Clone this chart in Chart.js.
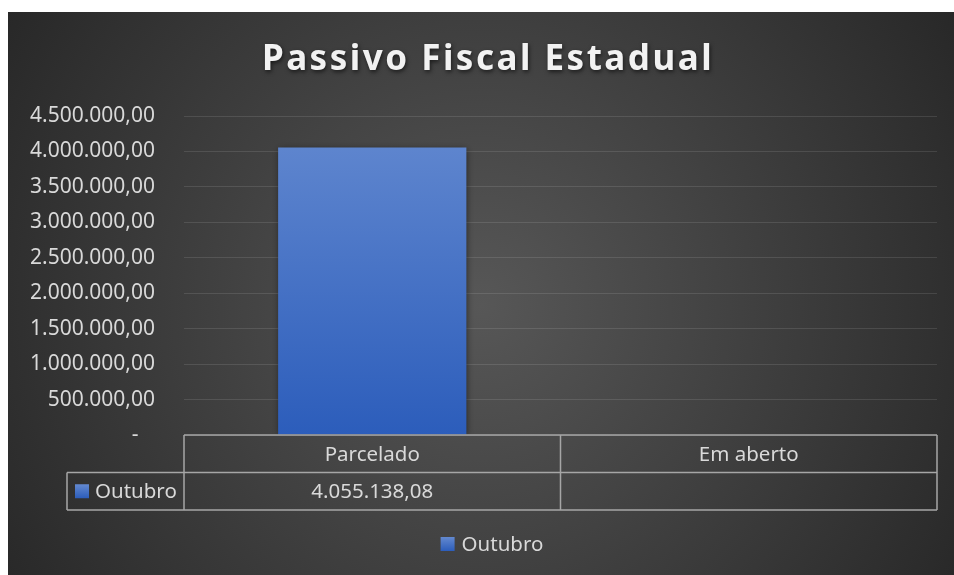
<!DOCTYPE html>
<html>
<head>
<meta charset="utf-8">
<script src="https://cdn.jsdelivr.net/npm/chart.js@4/dist/chart.umd.min.js"></script>
<style>
  html, body { margin: 0; padding: 0; background: #fff; }
  #wrap { position: absolute; left: 8px; top: 12px; width: 946px; height: 563px; }
</style>
</head>
<body>
<div id="wrap"><canvas id="chart"></canvas></div>
<script>
const chartTitle = 'Passivo Fiscal Estadual';
const categories = ['Parcelado', 'Em aberto'];
const seriesName = 'Outubro';
const outubroValues = [4055138.08, null];
const yMax = 4500000;
const yStep = 500000;

const FONT = "'Noto Sans', 'Open Sans', sans-serif";
const textColor = '#d9d9d9';
const lineColor = '#a6a6a6';
const barTop = '#6389d0';
const barBottom = '#2c5dbb';

function fmtBR(v) {
    const parts = v.toFixed(2).split('.');
    return parts[0].replace(/\B(?=(\d{3})+(?!\d))/g, '.') + ',' + parts[1];
}

const backgroundPlugin = {
    id: 'background',
    beforeDraw(chart) {
        const {ctx, width, height} = chart;
        const g = ctx.createRadialGradient(width / 2, height * 0.52, 0, width / 2, height * 0.52, width * 0.6);
        g.addColorStop(0, '#575757');
        g.addColorStop(1, '#272727');
        ctx.save();
        ctx.fillStyle = g;
        ctx.fillRect(0, 0, width, height);
        ctx.restore();
    }
};

const barShadow = {
    id: 'barShadow',
    beforeDatasetDraw(chart) {
        const ctx = chart.ctx;
        ctx.save();
        ctx.shadowColor = 'rgba(0,0,0,0.55)';
        ctx.shadowBlur = 7;
        ctx.shadowOffsetX = 1;
        ctx.shadowOffsetY = 1;
    },
    afterDatasetDraw(chart) {
        chart.ctx.restore();
    }
};

// title, data table and legend drawn over the chart
const extrasPlugin = {
    id: 'extras',
    afterDraw(chart) {
        const ctx = chart.ctx;
        const x = chart.scales.x;
        const area = chart.chartArea;
        const n = categories.length;
        const colW = (x.right - x.left) / n;
        const rowH = 37.5;
        const headLeft = 59;
        const top = area.bottom;
        const r1 = top + rowH;
        const r2 = r1 + rowH;

        ctx.save();
        // title
        ctx.font = 'bold 35px ' + FONT;
        ctx.letterSpacing = '2.5px';
        ctx.textAlign = 'center';
        ctx.textBaseline = 'middle';
        ctx.shadowColor = 'rgba(0,0,0,0.6)';
        ctx.shadowBlur = 4;
        ctx.shadowOffsetX = 1;
        ctx.shadowOffsetY = 2;
        ctx.fillStyle = '#f2f2f2';
        ctx.fillText(chartTitle, 480, 48);
        ctx.restore();

        ctx.save();
        // table grid
        ctx.strokeStyle = lineColor;
        ctx.lineWidth = 1.5;
        ctx.beginPath();
        ctx.moveTo(x.left, top); ctx.lineTo(x.right, top);
        ctx.moveTo(headLeft, r1); ctx.lineTo(x.right, r1);
        ctx.moveTo(headLeft, r2); ctx.lineTo(x.right, r2);
        ctx.moveTo(headLeft, r1); ctx.lineTo(headLeft, r2);
        for (let i = 0; i <= n; i++) {
            const cx = x.left + colW * i;
            ctx.moveTo(cx, top); ctx.lineTo(cx, r2);
        }
        ctx.stroke();

        ctx.font = '20.5px ' + FONT;
        ctx.fillStyle = textColor;
        ctx.textAlign = 'center';
        ctx.textBaseline = 'middle';
        categories.forEach((c, i) => {
            const cx = x.getPixelForValue(i);
            ctx.fillText(c, cx, (top + r1) / 2 + 1);
            const v = outubroValues[i];
            if (v !== null) ctx.fillText(fmtBR(v), cx, (r1 + r2) / 2 + 1);
        });

        // series key in table
        const keyGrad = ctx.createLinearGradient(0, (r1 + r2) / 2 - 7, 0, (r1 + r2) / 2 + 7);
        keyGrad.addColorStop(0, barTop);
        keyGrad.addColorStop(1, barBottom);
        ctx.fillStyle = keyGrad;
        ctx.fillRect(headLeft + 8, (r1 + r2) / 2 - 7, 14, 14);
        ctx.fillStyle = textColor;
        ctx.textAlign = 'left';
        ctx.fillText(seriesName, headLeft + 28, (r1 + r2) / 2 + 1);

        // legend
        ctx.font = '20.5px ' + FONT;
        const tw = ctx.measureText(seriesName).width;
        const total = 14 + 7 + tw;
        const lx = 484 - total / 2;
        const ly = 532;
        const lg = ctx.createLinearGradient(0, ly - 7, 0, ly + 7);
        lg.addColorStop(0, barTop);
        lg.addColorStop(1, barBottom);
        ctx.fillStyle = lg;
        ctx.fillRect(lx, ly - 7, 14, 14);
        ctx.fillStyle = textColor;
        ctx.fillText(seriesName, lx + 21, ly + 1);
        ctx.restore();
    }
};

const ctx = document.getElementById('chart').getContext('2d');
new Chart(ctx, {
    type: 'bar',
    data: {
        labels: categories,
        datasets: [{
            label: seriesName,
            data: outubroValues,
            backgroundColor(c) {
                const area = c.chart.chartArea;
                if (!area) return '#4472c4';
                const g = c.chart.ctx.createLinearGradient(0, area.top, 0, area.bottom);
                g.addColorStop(0, barTop);
                g.addColorStop(1, barBottom);
                return g;
            },
            borderWidth: 0,
            categoryPercentage: 1,
            barPercentage: 0.5
        }]
    },
    options: {
        responsive: true,
        maintainAspectRatio: false,
        animation: false,
        layout: { padding: { top: 104, bottom: 140, right: 17, left: 0 } },
        plugins: {
            legend: { display: false },
            title: { display: false },
            tooltip: { enabled: false }
        },
        scales: {
            x: { display: false },
            y: {
                min: 0,
                max: yMax,
                afterFit(scale) { scale.width = 176; },
                ticks: {
                    stepSize: yStep,
                    padding: 29,
                    color: textColor,
                    font: { family: FONT, size: 21 },
                    callback(v) { return v === 0 ? '-   ' : fmtBR(v); }
                },
                grid: { color: 'rgba(255,255,255,0.11)', drawTicks: false, lineWidth: 1 },
                border: { display: false }
            }
        }
    },
    plugins: [backgroundPlugin, barShadow, extrasPlugin]
});
</script>
</body>
</html>
